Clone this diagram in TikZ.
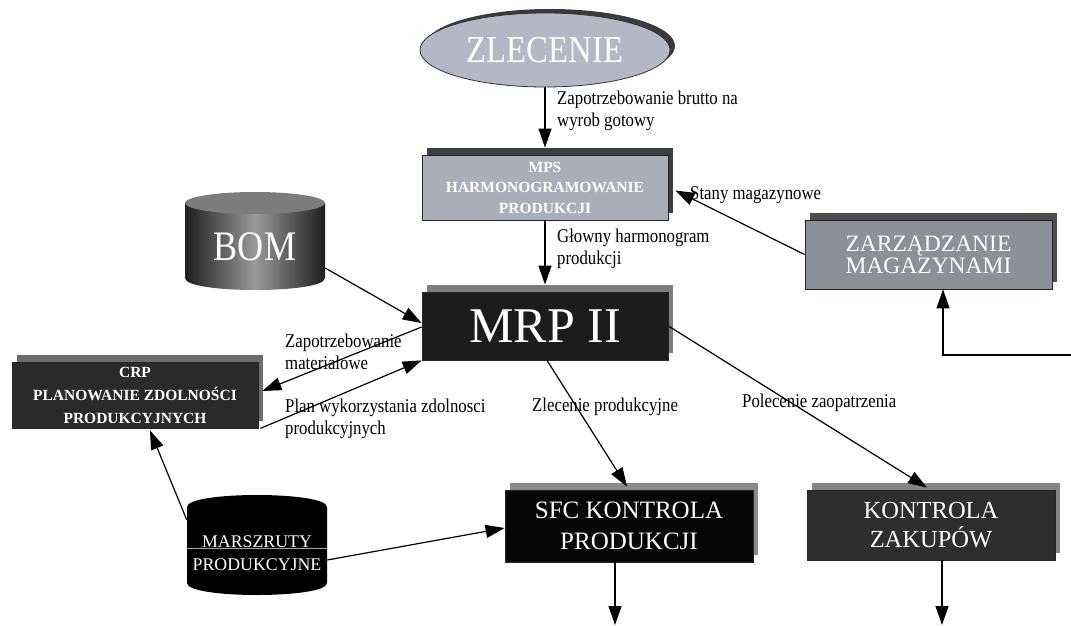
\documentclass[tikz,border=0pt]{standalone}
\usepackage{fontspec}
\setmainfont{Liberation Serif}
\newfontfamily\narrowserif[FakeStretch=0.86]{Liberation Serif}
\usetikzlibrary{arrows.meta,shadows,shapes.geometric,calc}

\definecolor{zlfill}{HTML}{B4B8C6}
\definecolor{zlshade}{HTML}{3A3A3A}
\definecolor{mpsfill}{HTML}{A9AEB9}
\definecolor{mpsshade}{HTML}{3D3D3D}
\definecolor{zmfill}{HTML}{8C9099}
\definecolor{zmshade}{HTML}{4D4D4D}
\definecolor{mrpfill}{HTML}{1C1C1C}
\definecolor{mrpshade}{HTML}{7D7D7D}
\definecolor{crpfill}{HTML}{2A2A2A}
\definecolor{crpshade}{HTML}{6E6E6E}
\definecolor{sfcfill}{HTML}{060606}
\definecolor{sfcshade}{HTML}{8A8A8A}
\definecolor{kzfill}{HTML}{2E2E2E}
\definecolor{kzshade}{HTML}{858585}
\definecolor{bomdark}{HTML}{1E1E1E}
\definecolor{bomlight}{HTML}{9A9A9A}
\definecolor{bomtop}{HTML}{7C7C7C}

\begin{document}
\begin{tikzpicture}[x=1pt,y=-1pt,
  arr/.style={draw=black, line width=1.2pt, -{Triangle[length=19pt,width=13pt]}},
  lbl/.style={font=\narrowserif\fontsize{19.5}{22}\selectfont, align=left, anchor=west, inner sep=0pt},
  panel/.style 2 args={draw=black!85, line width=0.8pt, fill=#1,
    general shadow={shadow xshift=5pt, shadow yshift=7pt, fill=#2},
    text=white, align=center, inner sep=0pt},
  cyltext/.style={minimum width=140pt, minimum height=98pt, inner sep=0pt, text=white, align=center}
]
\useasboundingbox (0,0) rectangle (1071,626);
\fill[white] (0,0) rectangle (1071,626);

% order source
\node[ellipse, draw=black!80, line width=0.8pt, fill=zlfill,
  general shadow={shadow xshift=5pt, shadow yshift=4pt, fill=zlshade},
  minimum width=250pt, minimum height=74pt, inner sep=0pt, text=white,
  font=\narrowserif\fontsize{38}{38}\selectfont] (zl) at (545,50) {ZLECENIE};

% master production schedule
\node[panel={mpsfill}{mpsshade}, minimum width=246pt, minimum height=65pt,
  font=\bfseries\fontsize{15.5}{20.5}\selectfont] (mps) at (545,187.5)
  {MPS\\HARMONOGRAMOWANIE\\PRODUKCJI};

% MRP II core
\node[panel={mrpfill}{mrpshade}, minimum width=246pt, minimum height=68pt,
  font=\fontsize{50}{50}\selectfont] (mrp) at (545,326) {MRP II};

% warehouse management
\node[panel={zmfill}{zmshade}, minimum width=247pt, minimum height=69pt,
  font=\fontsize{23.5}{22}\selectfont] (zm) at (928.5,254.5)
  {ZARZĄDZANIE\\MAGAZYNAMI};

% capacity planning
\node[panel={crpfill}{crpshade}, minimum width=246pt, minimum height=66pt,
  font=\bfseries\fontsize{15.5}{23}\selectfont] (crp) at (135,395)
  {CRP\\PLANOWANIE ZDOLNOŚCI\\PRODUKCYJNYCH};

% shop floor control
\node[panel={sfcfill}{sfcshade}, minimum width=248pt, minimum height=72pt,
  font=\fontsize{25}{31}\selectfont] (sfc) at (629,526)
  {SFC KONTROLA\\PRODUKCJI};

% purchasing control
\node[panel={kzfill}{kzshade}, minimum width=248pt, minimum height=70pt,
  font=\fontsize{24.5}{29}\selectfont] (kz) at (931,525)
  {KONTROLA\\ZAKUPÓW};

% bill of materials database
\shade[left color=bomdark, right color=bomdark, middle color=bomlight]
  (185,203) -- (185,278) .. controls (185,294) and (325,294) .. (325,278)
  -- (325,203) -- cycle;
\fill[bomtop] (255,203) ellipse [x radius=70, y radius=11];
\node[cyltext, font=\narrowserif\fontsize{42}{42}\selectfont] (bom) at (255,247) {BOM};

% routings database
\fill[black] (187,507) .. controls (187,491) and (327,491) .. (327,507)
  -- (327,583) .. controls (327,599) and (187,599) .. (187,583) -- cycle;
\draw[black!35, line width=1pt] (187,548) -- (327,548);
\node[cyltext, font=\fontsize{17.8}{23}\selectfont] (mar) at (257,553)
  {MARSZRUTY\\PRODUKCYJNE};

% free ends
\coordinate (sfcout) at (615,625);
\coordinate (kzout) at (942,625);
\coordinate (whin) at (1071,355);

% connectors
\draw[arr] (zl.south) -- ([yshift=7pt]mps.north);
\draw[arr] (mps.south) -- ([yshift=7pt]mrp.north);
\draw[arr] (zm.west) -- ([xshift=7pt,yshift=-3pt]mps.east);
\draw[arr] ([yshift=-21pt]bom.east) -- ([yshift=3pt]mrp.west);
\draw[arr] ([yshift=-1pt]mrp.west) -- ([xshift=4pt,yshift=4pt]crp.east);
\draw[arr] ([xshift=2pt]crp.south east) -- (mrp.south west);
\draw[arr] ([yshift=33pt]mar.west) -- ([xshift=15pt,yshift=-2pt]crp.south);
\draw[arr] ([yshift=-7pt]mar.east) -- ([yshift=-2pt]sfc.west);
\draw[arr] ([xshift=2pt]mrp.south) -- ([xshift=-2pt,yshift=3pt]sfc.north);
\draw[arr] (mrp.east) -- ([xshift=-4pt,yshift=2pt]kz.north);
\draw[arr] ([xshift=-14pt]sfc.south) -- (sfcout);
\draw[arr] ([xshift=11pt]kz.south) -- (kzout);
\draw[arr] (whin) -| ([xshift=14.5pt]zm.south);

% connector labels
\node[lbl] (l1) at (557,111) {Zapotrzebowanie brutto na\\wyrob gotowy};
\node[lbl] (l2) at (557,249) {Głowny harmonogram\\produkcji};
\node[lbl] (l3) at (690,195) {Stany magazynowe};
\node[lbl] (l4) at (285,352) {Zapotrzebowanie\\materialowe};
\node[lbl] (l5) at (285,419) {Plan wykorzystania zdolnosci\\produkcyjnych};
\node[lbl] (l6) at (532,407) {Zlecenie produkcyjne};
\node[lbl] (l7) at (742,403) {Polecenie zaopatrzenia};
\end{tikzpicture}
\end{document}
